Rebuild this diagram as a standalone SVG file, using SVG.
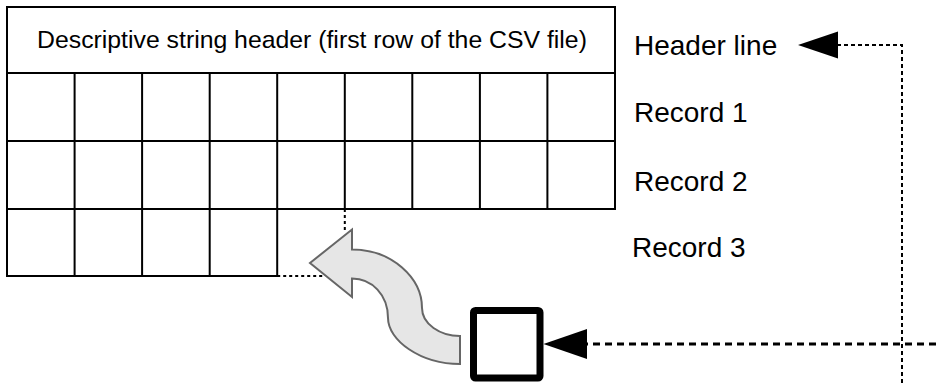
<svg xmlns="http://www.w3.org/2000/svg" width="936" height="383" viewBox="0 0 936 383">
<style>
.grid{fill:#fff;stroke:#000;stroke-width:2}
.ln{stroke:#000;stroke-width:2;fill:none}
.dot{stroke:#000;stroke-width:2;fill:none;stroke-dasharray:3 3}
.lbl{font-family:"Liberation Sans",Arial,sans-serif;font-size:28px;fill:#000}
.hdr{font-family:"Liberation Sans",Arial,sans-serif;font-size:24.8px;fill:#000}
</style>
<rect width="936" height="383" fill="#fff"/>
<g id="table">
<rect class="grid" x="7" y="7" width="608" height="66"/>
<text class="hdr" x="312" y="48" text-anchor="middle">Descriptive string header (first row of the CSV file)</text>
<rect class="grid" x="7" y="73" width="608" height="136"/>
<path class="ln" d="M7,141H615 M74.6,73V209 M142.1,73V209 M209.7,73V209 M277.2,73V209 M344.8,73V209 M412.3,73V209 M479.9,73V209 M547.4,73V209"/>
<rect class="grid" x="7" y="209" width="270.2" height="67"/>
<path class="ln" d="M74.6,209V276 M142.1,209V276 M209.7,209V276"/>
<path class="dot" d="M277.2,209H344.8 M344.8,209V232 M277.2,276H323"/>
</g>
<g id="labels">
<text class="lbl" x="634" y="55">Header line</text>
<text class="lbl" x="634" y="122">Record 1</text>
<text class="lbl" x="634" y="191">Record 2</text>
<text class="lbl" x="632" y="257">Record 3</text>
</g>
<g id="curved-arrow">
<path d="M352,249.5 C392,249.5 422,278 422,308 C422,324 440,336 460,336 L460,364 C420,364 388,340 388,318 C388,295 372,278.5 352,278.5 L352,297 L310,263 L352,229.5 Z" fill="#e6e6e6" stroke="#666" stroke-width="2" stroke-linejoin="miter"/>
</g>
<g id="box">
<rect x="473.5" y="310.5" width="66.5" height="67.5" rx="2" fill="#fff" stroke="#000" stroke-width="7"/>
</g>
<g id="connectors">
<path d="M936,344 H587" fill="none" stroke="#000" stroke-width="3" stroke-dasharray="7 5"/>
<path d="M543.5,344 L587,329 L587,359 Z" fill="#000"/>
<path d="M902,383 V45 H838" fill="none" stroke="#000" stroke-width="2" stroke-dasharray="4 3"/>
<path d="M798,45 L838,31.5 L838,58.5 Z" fill="#000"/>
</g>
</svg>
